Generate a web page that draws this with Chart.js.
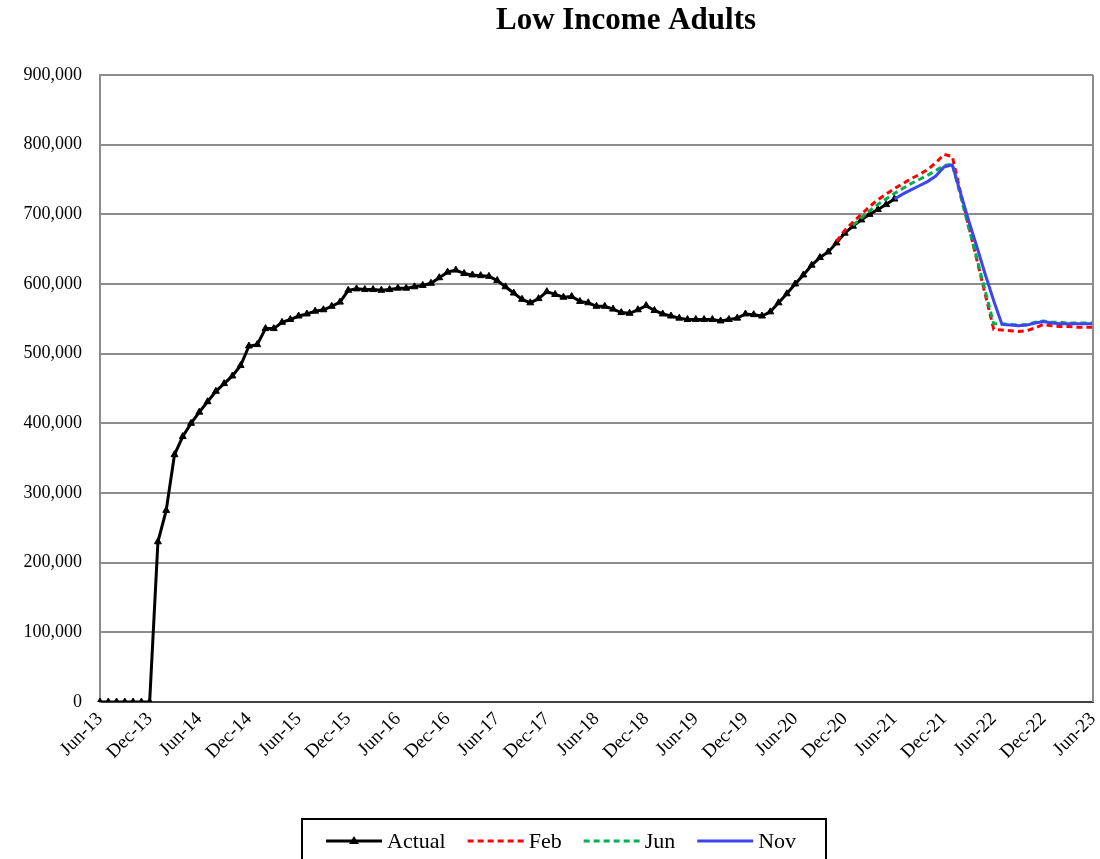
<!DOCTYPE html>
<html>
<head>
<meta charset="utf-8">
<script src="https://cdn.jsdelivr.net/npm/chart.js@4.4.1/dist/chart.umd.min.js"></script>
<style>
  body { margin: 0; background: #fff; }
  #wrap { width: 1100px; height: 859px; }
</style>
</head>
<body>
<div id="wrap"><canvas id="chart" width="1100" height="859"></canvas></div>
<script>
// month categories Jun-13 .. Jun-23
const MONTH_NAMES = ['Jan','Feb','Mar','Apr','May','Jun','Jul','Aug','Sep','Oct','Nov','Dec'];
const START_YEAR = 2013, START_MONTH = 5, N_MONTHS = 121;
const labels = [];
for (let i = 0; i < N_MONTHS; i++) {
  const m = (START_MONTH + i) % 12;
  const y = START_YEAR + Math.floor((START_MONTH + i) / 12);
  labels.push(MONTH_NAMES[m] + '-' + String(y).slice(2));
}

const yTicks = [0, 100000, 200000, 300000, 400000, 500000, 600000, 700000, 800000, 900000];

// Actual, Jun-13 .. Jun-21
const actual = [
  0, 0, 0, 0, 0, 0, 0,
  230000, 275000, 355000, 381000, 400000, 416000, 431000, 446000, 457000, 468000, 483000, 511000,
  513000, 536000, 536000, 545000, 549000, 554000, 557000, 561000, 563000, 568000, 574000, 591000,
  593000, 592000, 592000, 591000, 592000, 594000, 594000, 596000, 598000, 601000, 609000, 617000,
  620000, 615000, 613000, 612000, 611000, 605000, 596000, 587000, 578000, 573000, 579000, 589000,
  585000, 581000, 582000, 575000, 573000, 568000, 568000, 564000, 559000, 558000, 563000, 569000,
  562000, 557000, 554000, 551000, 549000, 549000, 549000, 549000, 547000, 549000, 551000, 557000,
  556000, 554000, 560000, 573000, 586000, 600000, 613000, 627000, 638000, 646000, 659000, 673000,
  683000, 692000, 700000, 707000, 714000, 722000
];

// forecasts (first value at the given start month)
const febStart = 89; // Nov-20
const feb = [
  661000, 677000, 689000, 700000, 711000, 721000, 729000, 737000, 744000, 751000, 757000, 764000,
  774000, 786000, 783000, 731000, 682000, 633000, 584000, 535000, 534000, 533000, 532000, 533000,
  537000, 542000, 540000, 539000, 539000, 538000, 538000, 538000
];
const junStart = 91; // Jan-21
const jun = [
  684000, 695000, 705000, 714000, 722000, 730000, 737000, 744000, 750000, 756000, 763000, 770000,
  772000, 726000, 680000, 635000, 589000, 543000, 543000, 542000, 541000, 542000, 545000, 547000,
  545000, 545000, 544000, 544000, 544000, 544000
];
const novStart = 96; // Jun-21
const nov = [
  722000, 729000, 735000, 741000, 747000, 755000, 768000, 771000, 730000, 690000, 652000, 613000,
  576000, 542000, 541000, 540000, 541000, 544000, 546000, 544000, 543000, 543000, 543000, 543000,
  543000
];

const pad = (start, vals) => new Array(start).fill(null).concat(vals);

const SERIF = "'Liberation Serif', 'Times New Roman', serif";
const GRID = '#8c8c8c';

const frame = {
  id: 'frame',
  afterDraw(chart) {
    const { ctx, chartArea: a } = chart;
    ctx.save();
    // right border
    ctx.strokeStyle = GRID;
    ctx.lineWidth = 2;
    ctx.beginPath();
    ctx.moveTo(a.right, a.top);
    ctx.lineTo(a.right, a.bottom);
    ctx.stroke();

    // title
    ctx.fillStyle = '#000';
    ctx.font = 'bold 31px ' + SERIF;
    ctx.textAlign = 'center';
    ctx.textBaseline = 'middle';
    ctx.fillText('Low Income Adults', 626, 21);

    // legend
    ctx.strokeStyle = '#000';
    ctx.lineWidth = 2;
    ctx.strokeRect(302, 819, 524, 50);
    ctx.font = '22px ' + SERIF;
    ctx.textAlign = 'left';
    let x = 326;
    const y = 841;
    chart.data.datasets.forEach(ds => {
      ctx.strokeStyle = ds.borderColor;
      ctx.lineWidth = 3;
      ctx.setLineDash(ds.borderDash || []);
      ctx.beginPath();
      ctx.moveTo(x, y);
      ctx.lineTo(x + 56, y);
      ctx.stroke();
      ctx.setLineDash([]);
      if (ds.pointRadius) {
        ctx.fillStyle = ds.borderColor;
        ctx.beginPath();
        ctx.moveTo(x + 28, y - 5);
        ctx.lineTo(x + 33, y + 3);
        ctx.lineTo(x + 23, y + 3);
        ctx.closePath();
        ctx.fill();
      }
      ctx.fillStyle = '#000';
      ctx.fillText(ds.label, x + 61, y + 1);
      x += 61 + ctx.measureText(ds.label).width + 22;
    });
    ctx.restore();
  }
};

new Chart(document.getElementById('chart'), {
  type: 'line',
  data: {
    labels,
    datasets: [
      {
        label: 'Actual',
        data: actual,
        borderColor: '#000',
        backgroundColor: '#000',
        borderWidth: 3,
        pointStyle: 'triangle',
        pointRadius: 4,
        pointBorderWidth: 1,
        pointBackgroundColor: '#000',
        order: 4,
      },
      {
        label: 'Feb',
        data: pad(febStart, feb),
        borderColor: '#ff0000',
        borderWidth: 3,
        borderDash: [6, 4],
        pointRadius: 0,
        order: 3,
      },
      {
        label: 'Jun',
        data: pad(junStart, jun),
        borderColor: '#00b050',
        borderWidth: 3,
        borderDash: [6, 4],
        pointRadius: 0,
        order: 2,
      },
      {
        label: 'Nov',
        data: pad(novStart, nov),
        borderColor: '#3c46f0',
        borderWidth: 3,
        pointRadius: 0,
        order: 1,
      }
    ]
  },
  options: {
    responsive: false,
    animation: false,
    layout: { padding: { top: 75, left: 0, right: 7, bottom: 77 } },
    plugins: {
      legend: { display: false },
      title: { display: false },
      tooltip: { enabled: false }
    },
    scales: {
      x: {
        grid: { display: false, drawTicks: false },
        border: { color: '#404040', width: 2 },
        afterFit: s => { s.height = 80; s.paddingRight = 0; },
        ticks: {
          autoSkip: false,
          maxRotation: 45,
          minRotation: 45,
          padding: 6,
          color: '#000',
          font: { family: SERIF, size: 19 },
          callback: (v, i) => (i % 6 === 0 ? labels[i] : '')
        }
      },
      y: {
        min: 0,
        max: 900000,
        afterFit: s => { s.width = 100; },
        afterBuildTicks: s => { s.ticks = yTicks.map(v => ({ value: v })); },
        grid: { color: GRID, lineWidth: 2, drawTicks: false },
        border: { color: GRID, width: 2 },
        ticks: {
          padding: 18,
          color: '#000',
          font: { family: SERIF, size: 18 },
          callback: v => v.toLocaleString('en-US')
        }
      }
    }
  },
  plugins: [frame]
});
</script>
</body>
</html>
